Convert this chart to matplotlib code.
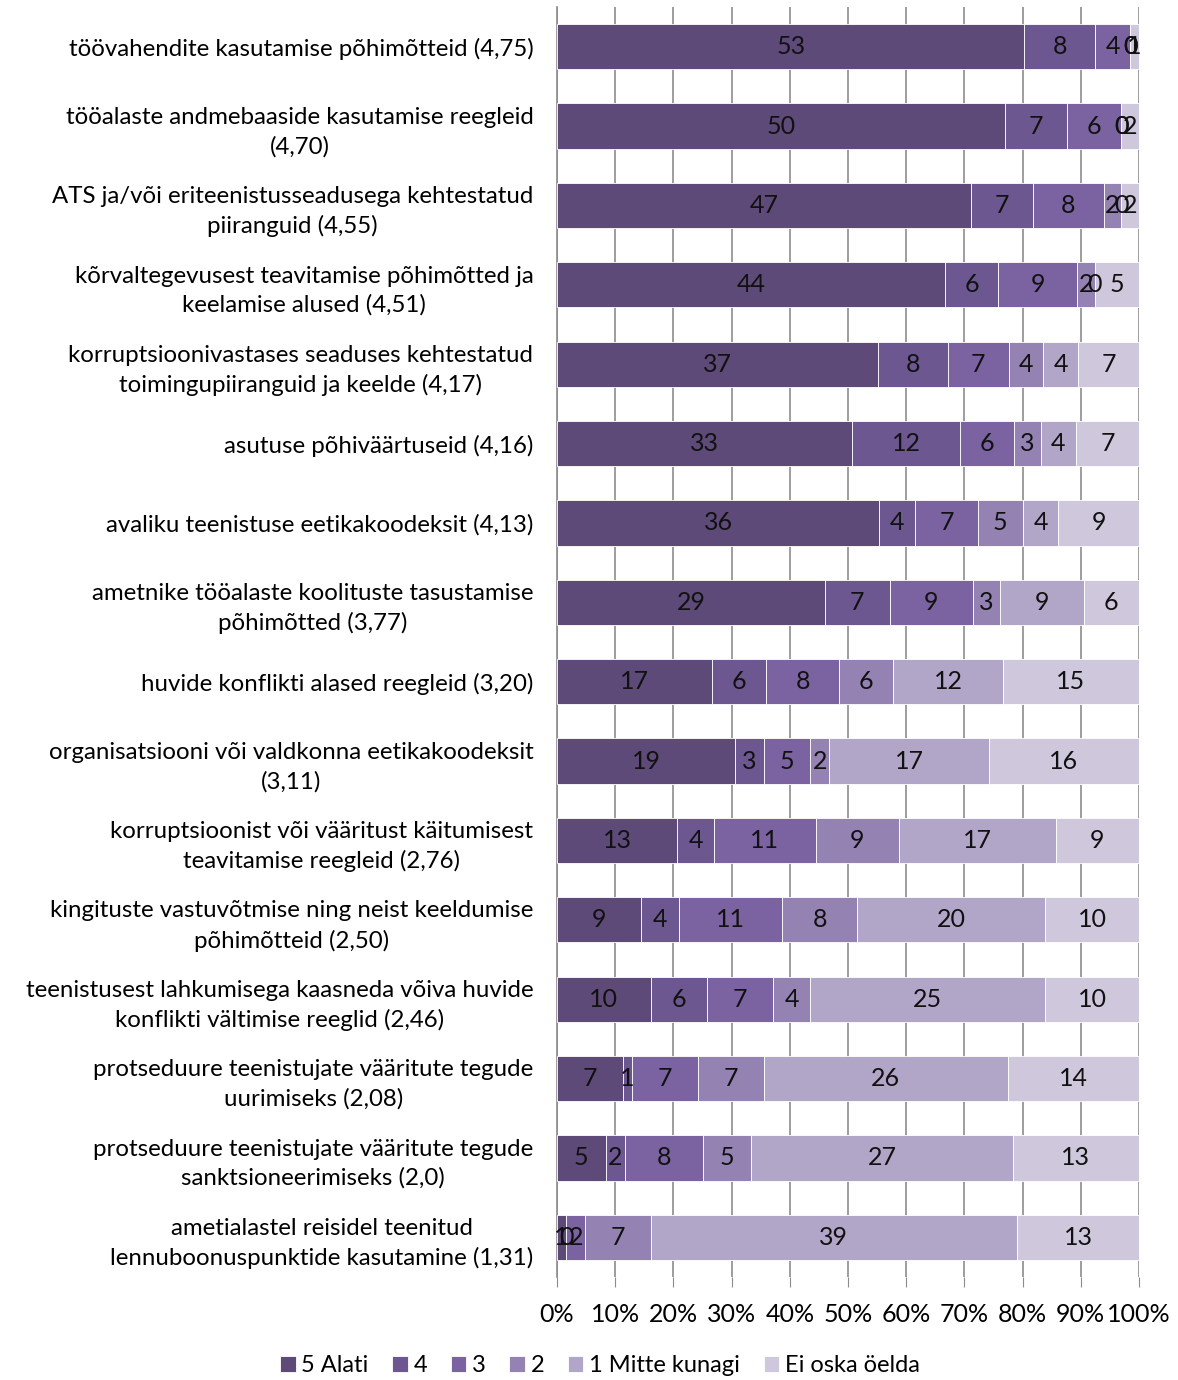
import matplotlib.pyplot as plt
import numpy as np

plt.rcParams["font.family"] = ["Lato", "DejaVu Sans"]

categories = [
    "töövahendite kasutamise põhimõtteid (4,75)",
    "tööalaste andmebaaside kasutamise reegleid\n(4,70)",
    "ATS ja/või eriteenistusseadusega kehtestatud\npiiranguid (4,55)",
    "kõrvaltegevusest teavitamise põhimõtted ja\nkeelamise alused (4,51)",
    "korruptsioonivastases seaduses kehtestatud\ntoimingupiiranguid ja keelde (4,17)",
    "asutuse põhiväärtuseid (4,16)",
    "avaliku teenistuse eetikakoodeksit (4,13)",
    "ametnike tööalaste koolituste tasustamise\npõhimõtted (3,77)",
    "huvide konflikti alased reegleid (3,20)",
    "organisatsiooni või valdkonna eetikakoodeksit\n(3,11)",
    "korruptsioonist või vääritust käitumisest\nteavitamise reegleid (2,76)",
    "kingituste vastuvõtmise ning neist keeldumise\npõhimõtteid (2,50)",
    "teenistusest lahkumisega kaasneda võiva huvide\nkonflikti vältimise reeglid (2,46)",
    "protseduure teenistujate vääritute tegude\nuurimiseks (2,08)",
    "protseduure teenistujate vääritute tegude\nsanktsioneerimiseks (2,0)",
    "ametialastel reisidel teenitud\nlennuboonuspunktide kasutamine (1,31)",
]

series_names = ["5 Alati", "4", "3", "2", "1 Mitte kunagi", "Ei oska öelda"]

alati = [53, 50, 47, 44, 37, 33, 36, 29, 17, 19, 13, 9, 10, 7, 5, 1]
neli = [8, 7, 7, 6, 8, 12, 4, 7, 6, 3, 4, 4, 6, 1, 2, 0]
kolm = [4, 6, 8, 9, 7, 6, 7, 9, 8, 5, 11, 11, 7, 7, 8, 2]
kaks = [0, 0, 2, 2, 4, 3, 5, 3, 6, 2, 9, 8, 4, 7, 5, 7]
mitte_kunagi = [0, 0, 0, 0, 4, 4, 4, 9, 12, 17, 17, 20, 25, 26, 27, 39]
ei_oska = [1, 2, 2, 5, 7, 7, 9, 6, 15, 16, 9, 10, 10, 14, 13, 13]

colors = ["#5e4a78", "#6c5790", "#7b62a0", "#9482b3", "#b2a6c8", "#cfc8dc"]

counts = np.array([alati, neli, kolm, kaks, mitte_kunagi, ei_oska], dtype=float)
shares = counts / counts.sum(axis=0) * 100

fig = plt.figure(figsize=(11.78, 13.8), dpi=100)
ax = fig.add_axes([557 / 1178, 1 - 1277 / 1380, 582 / 1178, 1270 / 1380])

y = np.arange(len(categories))
left = np.zeros(len(categories))
for k, name in enumerate(series_names):
    ax.barh(y, shares[k], left=left, height=0.57, color=colors[k],
            edgecolor="white", linewidth=0.6, label=name, zorder=3)
    for i in range(len(categories)):
        ax.text(left[i] + shares[k][i] / 2, y[i], f"{int(counts[k][i])}",
                ha="center", va="center", fontsize=18, color="#111111", zorder=4)
    left += shares[k]

ax.set_xlim(0, 100)
ax.set_ylim(len(categories) - 0.5, -0.5)
ax.set_xticks(np.arange(0, 101, 10))
ax.set_xticklabels([f"{v}%" for v in range(0, 101, 10)], fontsize=18)
ax.set_yticks(y)
ax.set_yticklabels(categories, fontsize=17.3, linespacing=1.45)
for lbl in ax.get_yticklabels():
    lbl.set_multialignment("center")
ax.tick_params(axis="y", length=0, pad=17)
ax.tick_params(axis="x", length=7, color="#8c8c8c", pad=12)
ax.grid(axis="x", color="#8c8c8c", linewidth=1.2, zorder=0)
for side in ["top", "right", "bottom"]:
    ax.spines[side].set_visible(False)
ax.spines["left"].set_color("#8c8c8c")
ax.spines["left"].set_linewidth(1.2)

fig.legend(loc="center", bbox_to_anchor=(600 / 1178, 1 - 1366 / 1380), ncol=6,
           frameon=False, fontsize=17, handlelength=0.65, handleheight=0.65,
           handletextpad=0.25, columnspacing=1.0)

fig.savefig("out.png", dpi=100)
